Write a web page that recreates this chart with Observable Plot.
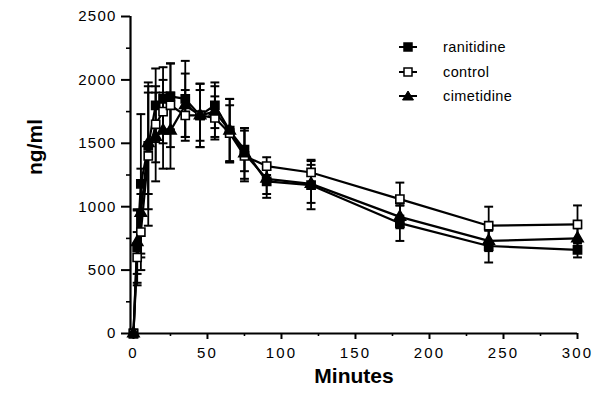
<!DOCTYPE html>
<html><head><meta charset="utf-8">
<script src="https://cdn.jsdelivr.net/npm/d3@7"></script>
<script src="https://cdn.jsdelivr.net/npm/@observablehq/plot@0.6"></script>
<style>
body{margin:0;background:#fff;}
#wrap{position:relative;width:604px;height:395px;}
#legend{position:absolute;left:399px;top:35px;font-family:"Liberation Sans",Arial,sans-serif;font-size:14.5px;color:#000;letter-spacing:0.4px;}
.row{display:flex;align-items:center;height:24.5px;}
.row span{margin-left:24px}
g[aria-label="y-axis tick label"] text{letter-spacing:1.2px;}
g[aria-label="x-axis tick label"] text{letter-spacing:2.2px;}
</style></head><body><div id="wrap"><div id="legend"></div></div>
<script>
const times = [0, 2.5, 5, 10, 15, 20, 25, 35, 45, 55, 65, 75, 90, 120, 180, 240, 300];
const ranitidine   = [0, 680, 1180, 1480, 1800, 1850, 1870, 1850, 1720, 1800, 1600, 1450, 1200, 1170, 870, 690, 660];
const ranitidineSD = [0, 300, 550, 500, 290, 250, 260, 300, 200, 180, 250, 170, 130, 190, 140, 130, 60];
const control      = [0, 600, 800, 1400, 1650, 1750, 1800, 1720, 1720, 1700, 1580, 1400, 1320, 1270, 1060, 850, 860];
const controlSD    = [0, 200, 300, 550, 300, 250, 330, 200, 250, 170, 220, 200, 70, 100, 130, 150, 150];
const cimetidine   = [0, 720, 950, 1500, 1550, 1600, 1600, 1800, 1720, 1750, 1600, 1420, 1220, 1180, 920, 730, 750];
const cimetidineSD = [0, 250, 350, 400, 350, 300, 300, 250, 250, 200, 250, 200, 120, 150, 90, 80, 80];
const xTicks = [0, 50, 100, 150, 200, 250, 300];
const xMinor = [25, 75, 125, 175, 225, 275];
const yTicks = [0, 500, 1000, 1500, 2000, 2500];
const yMinor = [250, 750, 1250, 1750, 2250];
const seriesNames = ["ranitidine", "control", "cimetidine"];

const series = [
  {name: seriesNames[0], values: ranitidine, sd: ranitidineSD, symbol: "square", fill: "black", r: 4.6},
  {name: seriesNames[1], values: control, sd: controlSD, symbol: "square", fill: "white", r: 4.6},
  {name: seriesNames[2], values: cimetidine, sd: cimetidineSD, symbol: "triangle", fill: "black", r: 4.2}
];
const rows = series.flatMap(s => times.map((t, i) => ({series: s.name, t, v: s.values[i], sd: s.sd[i]})));
const errRows = rows.filter(d => d.sd > 0);
const cap = {draw(ctx, size) { const w = Math.sqrt(size) / 2; ctx.moveTo(-w, 0); ctx.lineTo(w, 0); }};

const chart = Plot.plot({
  width: 604, height: 395,
  marginLeft: 130, marginRight: 27, marginTop: 16, marginBottom: 62,
  x: {domain: [-2, 300]},
  y: {domain: [0, 2500]},
  style: {fontFamily: "'Liberation Sans', Arial, sans-serif", background: "white", color: "black", overflow: "visible"},
  marks: [
    Plot.axisY({ticks: yTicks, tickSize: 9, tickPadding: 5, fontSize: 15, tickFormat: d3.format("d"), label: null, strokeWidth: 2}),
    Plot.axisY({ticks: yMinor, tickSize: 4, tickFormat: () => "", label: null, strokeWidth: 1.6}),
    Plot.axisX({ticks: xTicks, tickSize: 6, tickPadding: 8, fontSize: 15, tickFormat: d3.format("d"), label: null, strokeWidth: 2}),
    Plot.axisX({ticks: xMinor, tickSize: 3, tickFormat: () => "", label: null, strokeWidth: 1.6}),
    Plot.ruleX([-2], {stroke: "black", strokeWidth: 2.2}),
    Plot.ruleY([0], {stroke: "black", strokeWidth: 2.2}),
    Plot.ruleX(errRows, {x: "t", y1: d => d.v - d.sd, y2: d => d.v + d.sd, stroke: "black", strokeWidth: 1.8}),
    Plot.dot(errRows, {x: "t", y: d => d.v + d.sd, symbol: cap, r: 5, stroke: "black", strokeWidth: 2}),
    Plot.dot(errRows, {x: "t", y: d => d.v - d.sd, symbol: cap, r: 5, stroke: "black", strokeWidth: 2}),
    Plot.line(rows, {x: "t", y: "v", z: "series", stroke: "black", strokeWidth: 2.2}),
    ...series.map(s => Plot.dot(rows.filter(d => d.series === s.name),
      {x: "t", y: "v", symbol: s.symbol, r: s.r, fill: s.fill, stroke: "black", strokeWidth: 1.6})),
    Plot.text(["ng/ml"], {frameAnchor: "left", dx: -95, rotate: -90, fontSize: 21, fontWeight: "bold", text: d => d}),
    Plot.text(["Minutes"], {frameAnchor: "bottom", dy: 49, fontSize: 21, fontWeight: "bold", text: d => d})
  ]
});
document.getElementById("wrap").prepend(chart);

const legend = document.getElementById("legend");
series.forEach(s => {
  const row = document.createElement("div");
  row.className = "row";
  const shape = s.symbol === "square"
    ? `<rect x="5" y="2" width="8" height="8" fill="${s.fill}" stroke="black" stroke-width="1.5"/>`
    : `<path d="M9,1 L14.5,10 L3.5,10 Z" fill="black" stroke="black" stroke-width="1"/>`;
  row.innerHTML = `<svg width="20" height="12"><line x1="0" x2="18" y1="6" y2="6" stroke="black" stroke-width="2"/>${shape}</svg><span>${s.name}</span>`;
  legend.appendChild(row);
});
</script>
</body></html>
